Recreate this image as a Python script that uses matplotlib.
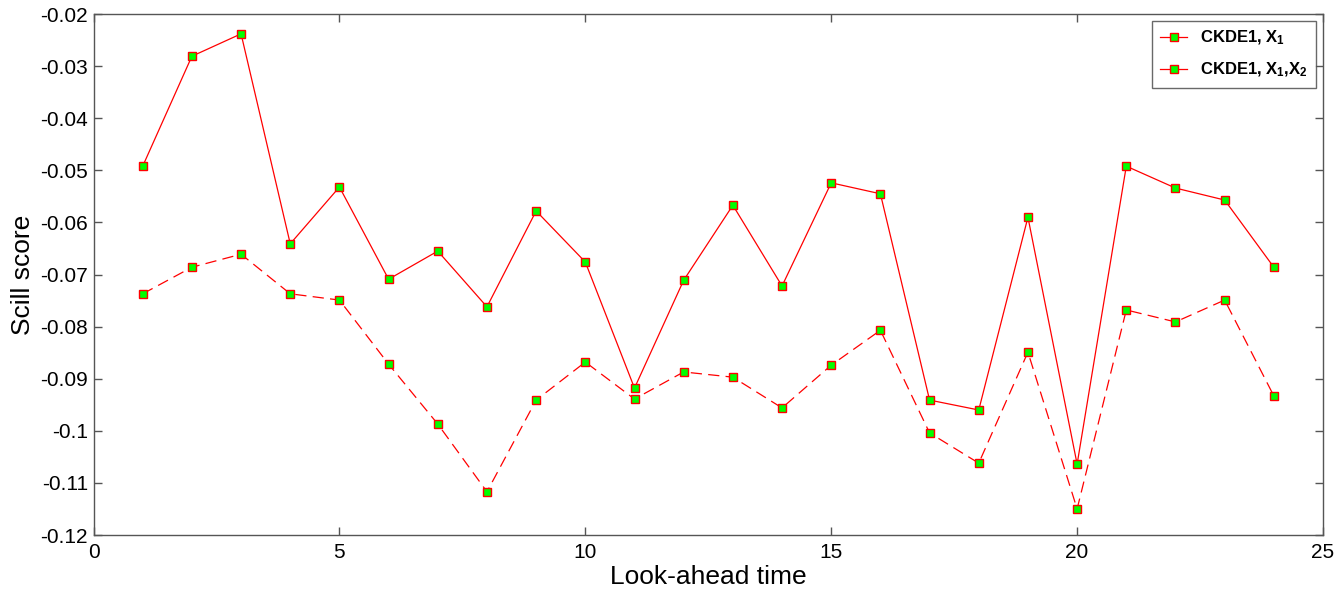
import matplotlib.pyplot as plt
from matplotlib.lines import Line2D

plt.rcParams['font.family'] = ['Liberation Sans', 'DejaVu Sans']
plt.rcParams['mathtext.fontset'] = 'custom'
plt.rcParams['mathtext.rm'] = 'Liberation Sans:bold'
plt.rcParams['mathtext.it'] = 'Liberation Sans:bold'
plt.rcParams['mathtext.bf'] = 'Liberation Sans:bold'

# Data
hours = list(range(1, 25))
skill_x1 = [-0.0492, -0.0281, -0.0238, -0.0641, -0.0532, -0.0709, -0.0655, -0.0762,
            -0.0578, -0.0676, -0.0918, -0.0711, -0.0567, -0.0722, -0.0524, -0.0545,
            -0.0941, -0.0960, -0.0590, -0.1064, -0.0492, -0.0534, -0.0557, -0.0686]
skill_x1x2 = [-0.0737, -0.0686, -0.0661, -0.0737, -0.0749, -0.0872, -0.0987, -0.1117,
              -0.0941, -0.0868, -0.0939, -0.0887, -0.0897, -0.0956, -0.0874, -0.0807,
              -0.1004, -0.1062, -0.0849, -0.1150, -0.0768, -0.0791, -0.0749, -0.0933]
labels = ["CKDE1, X$_{1}$", "CKDE1, X$_{1}$,X$_{2}$"]

fig = plt.figure(figsize=(13.38, 5.95), dpi=100)
ax = fig.add_axes([0.0699, 0.1008, 0.9189, 0.8756])

mk = dict(marker="s", markersize=5.5, markerfacecolor="#00ff00",
          markeredgecolor="red", markeredgewidth=1.0, color="red", linewidth=0.9)
ax.plot(hours, skill_x1, linestyle="-", **mk)
ax.plot(hours, skill_x1x2, linestyle=(0, (9, 5)), **mk)

ax.set_xlim(0, 25)
ax.set_ylim(-0.12, -0.02)
ax.set_xticks([0, 5, 10, 15, 20, 25])
ax.set_yticks([-0.12, -0.11, -0.1, -0.09, -0.08, -0.07, -0.06, -0.05, -0.04, -0.03, -0.02])
ax.set_yticklabels(["-0.12", "-0.11", "-0.1", "-0.09", "-0.08", "-0.07", "-0.06",
                    "-0.05", "-0.04", "-0.03", "-0.02"])

for s in ax.spines.values():
    s.set_color("#555555")
    s.set_linewidth(1.0)
ax.tick_params(direction="in", length=6, width=1.0, color="#555555",
               top=True, right=True, labelsize=15)
ax.tick_params(axis="x", pad=6)
ax.tick_params(axis="y", pad=4)

ax.set_xlabel("Look-ahead time", fontsize=19, labelpad=2)
ax.set_ylabel("Scill score", fontsize=19, labelpad=4)

handles = [Line2D([], [], linestyle="-", **mk) for _ in labels]
leg = ax.legend(handles, labels, loc="upper right", fontsize=12, frameon=True,
                fancybox=False, edgecolor="#444444", borderaxespad=0.4,
                handlelength=1.6, labelspacing=0.8, borderpad=0.5)
leg.get_frame().set_linewidth(1.0)
for t in leg.get_texts():
    t.set_fontweight("bold")

fig.savefig("out.png", dpi=100)
